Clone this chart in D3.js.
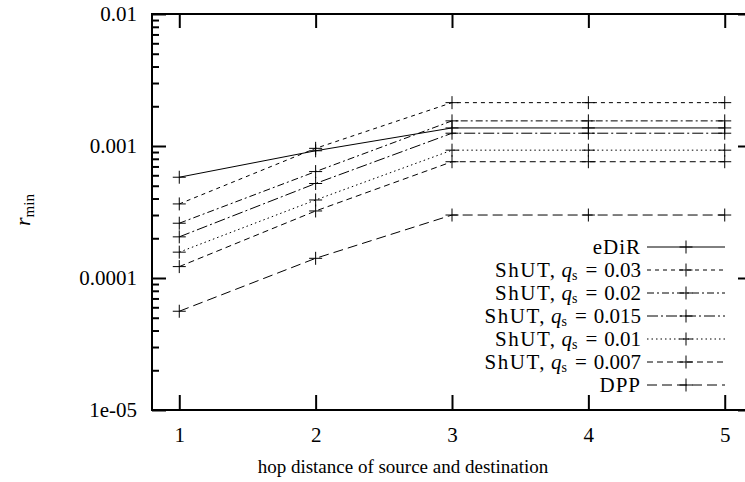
<!DOCTYPE html>
<html>
<head>
<meta charset="utf-8">
<script src="https://cdn.jsdelivr.net/npm/d3@7"></script>
<style>
body { margin: 0; background: #fff; }
svg { display: block; font-family: "Liberation Serif", serif; }
</style>
</head>
<body>
<svg id="chart" width="745" height="482"></svg>
<script>
// hop distance values on the x axis
var hops = [1, 2, 3, 4, 5];
var yTickValues = [1e-5, 1e-4, 1e-3, 1e-2];
var yTickLabels = ['1e-05', '0.0001', '0.001', '0.01'];

// r_min per hop
var eDiR     = [5.8e-4, 9.2e-4, 1.37e-3, 1.37e-3, 1.37e-3];
var shut003  = [3.64e-4, 9.6e-4, 2.13e-3, 2.13e-3, 2.13e-3];
var shut002  = [2.6e-4, 6.4e-4, 1.55e-3, 1.55e-3, 1.55e-3];
var shut0015 = [2.05e-4, 5.2e-4, 1.25e-3, 1.25e-3, 1.25e-3];
var shut001  = [1.57e-4, 3.9e-4, 9.3e-4, 9.3e-4, 9.3e-4];
var shut0007 = [1.22e-4, 3.22e-4, 7.6e-4, 7.6e-4, 7.6e-4];
var dpp      = [5.6e-5, 1.41e-4, 3.0e-4, 3.0e-4, 3.0e-4];

var seriesNames = ['eDiR', 'ShUT 0.03', 'ShUT 0.02', 'ShUT 0.015', 'ShUT 0.01', 'ShUT 0.007', 'DPP'];
var qsValues = [null, '0.03', '0.02', '0.015', '0.01', '0.007', null];
var seriesValues = [eDiR, shut003, shut002, shut0015, shut001, shut0007, dpp];
var dashes = ['none', '4,4', '7,3,2,3', '11,3,2,3', '1.5,3', '6,4', '10,5'];

var svg = d3.select('#chart');
var mLeft = 152, mRight = 752, mTop = 14, mBottom = 410;

var x = d3.scaleLinear().domain([0.8, 5.2]).range([mLeft, mRight]);
var y = d3.scaleLog().domain([1e-5, 1e-2]).range([mBottom, mTop]);

// minor ticks 2..9 of each decade
var minor = [];
[1e-5, 1e-4, 1e-3].forEach(function(d) {
	for (var k = 2; k <= 9; k++) minor.push(d * k);
});

function clean(g) {
	g.select('.domain').remove();
	g.selectAll('.tick line').attr('stroke', '#000').attr('stroke-width', 2);
	g.selectAll('.tick text').attr('fill', '#000');
}

// left axis
svg.append('g')
	.attr('transform', 'translate(' + mLeft + ',0)')
	.call(d3.axisLeft(y).tickValues(yTickValues).tickSize(-14).tickPadding(15)
		.tickFormat(function(d, i) { return yTickLabels[i]; }))
	.call(clean)
	.selectAll('text').attr('font-size', 21).attr('font-family', '"Liberation Serif", serif');
svg.append('g')
	.attr('transform', 'translate(' + mLeft + ',0)')
	.call(d3.axisLeft(y).tickValues(minor).tickSize(-7).tickFormat(''))
	.call(clean);
// right axis
svg.append('g')
	.attr('transform', 'translate(' + mRight + ',0)')
	.call(d3.axisRight(y).tickValues(yTickValues).tickSize(-14).tickFormat(''))
	.call(clean);
svg.append('g')
	.attr('transform', 'translate(' + mRight + ',0)')
	.call(d3.axisRight(y).tickValues(minor).tickSize(-7).tickFormat(''))
	.call(clean);
// bottom axis
svg.append('g')
	.attr('transform', 'translate(0,' + mBottom + ')')
	.call(d3.axisBottom(x).tickValues(hops).tickSize(-15).tickPadding(17).tickFormat(d3.format('d')))
	.call(clean)
	.selectAll('text').attr('font-size', 21).attr('font-family', '"Liberation Serif", serif');
// top axis
svg.append('g')
	.attr('transform', 'translate(0,' + mTop + ')')
	.call(d3.axisTop(x).tickValues(hops).tickSize(-14).tickFormat(''))
	.call(clean);

// frame
svg.append('rect')
	.attr('x', mLeft).attr('y', mTop)
	.attr('width', mRight - mLeft).attr('height', mBottom - mTop)
	.attr('fill', 'none').attr('stroke', '#000').attr('stroke-width', 2);

// series
var line = d3.line()
	.x(function(d, i) { return x(hops[i]); })
	.y(function(d) { return y(d); });

function plus(g, cx, cy) {
	g.append('path')
		.attr('d', 'M' + (cx - 6.5) + ',' + cy + 'H' + (cx + 6.5) + 'M' + cx + ',' + (cy - 6.5) + 'V' + (cy + 6.5))
		.attr('stroke', '#000').attr('stroke-width', 1).attr('fill', 'none');
}

seriesValues.forEach(function(vals, s) {
	var g = svg.append('g').attr('class', 'series');
	g.append('path')
		.datum(vals)
		.attr('d', line)
		.attr('fill', 'none')
		.attr('stroke', '#000')
		.attr('stroke-width', 1)
		.attr('stroke-dasharray', dashes[s]);
	vals.forEach(function(v, i) {
		plus(g, x(hops[i]), y(v));
	});
});

// legend
var legX = 641, legY0 = 247, legStep = 23;
seriesNames.forEach(function(name, s) {
	var ly = legY0 + s * legStep;
	var g = svg.append('g');
	var t = g.append('text')
		.attr('x', legX).attr('y', ly + 7)
		.attr('text-anchor', 'end')
		.attr('font-size', 21);
	if (qsValues[s] === null) {
		t.attr('letter-spacing', 1).text(name);
	} else {
		t.append('tspan').attr('letter-spacing', 1.5).text('ShUT,');
		t.append('tspan').attr('dx', 5).attr('font-style', 'italic').text('q');
		t.append('tspan').attr('font-size', 14).attr('dy', 3).text('s');
		t.append('tspan').attr('dy', -3).attr('dx', 8).text('=');
		t.append('tspan').attr('dx', 7).text(qsValues[s]);
	}
	g.append('line')
		.attr('x1', 647).attr('x2', 725)
		.attr('y1', ly).attr('y2', ly)
		.attr('stroke', '#000').attr('stroke-width', 1)
		.attr('stroke-dasharray', dashes[s]);
	plus(g, 686, ly);
});

// axis titles
svg.append('text')
	.attr('x', 403).attr('y', 473)
	.attr('text-anchor', 'middle')
	.attr('font-size', 19)
	.text('hop distance of source and destination');

var yl = svg.append('text')
	.attr('transform', 'translate(30,210) rotate(-90)')
	.attr('text-anchor', 'middle')
	.attr('font-size', 22);
yl.append('tspan').attr('font-style', 'italic').text('r');
yl.append('tspan').attr('font-size', 15).attr('dy', 4).text('min');
</script>
</body>
</html>
